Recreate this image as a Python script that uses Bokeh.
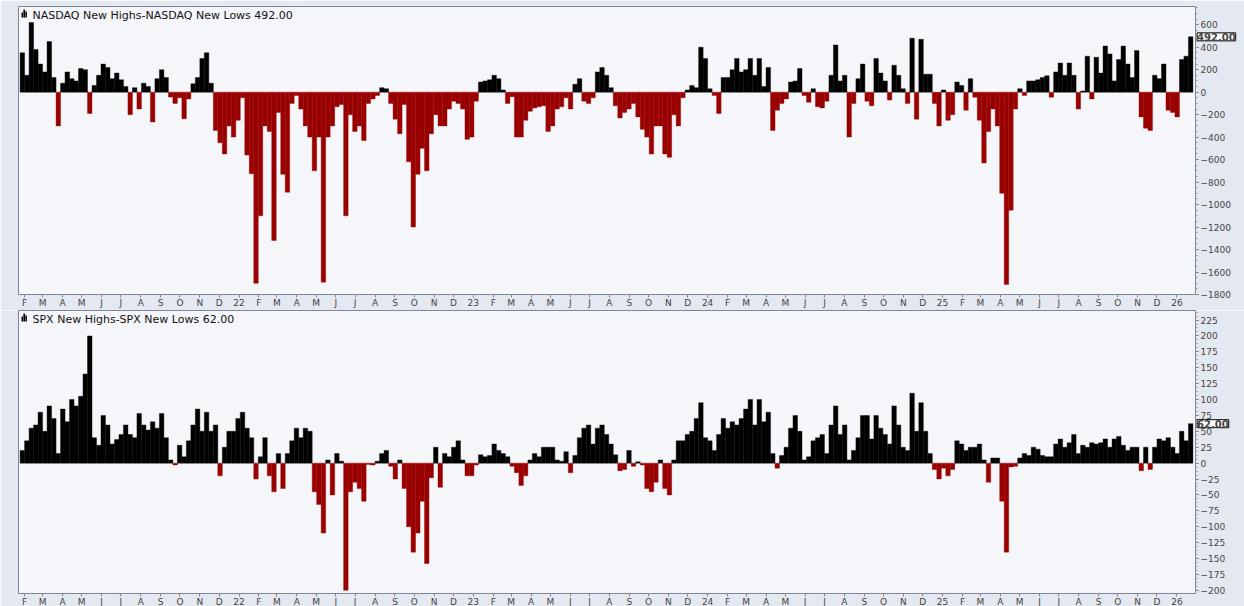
import pandas as pd
from bokeh.plotting import figure
from bokeh.layouts import column
from bokeh.models import Range1d, FixedTicker, SingleIntervalTicker, Label, BoxAnnotation, ColumnDataSource
from bokeh.embed import file_html
from bokeh.resources import INLINE

# ---------------- data (weekly readings, week starting 2021-01-25) ----------------
start_date = "2021-01-25"

nasdaq_hl = [
    350, 150, 620, 380, 250, 180, 450, 130, -300, 80,
    180, 120, 100, 210, 200, -190, 60, 150, 250, 220,
    120, 170, 110, 50, -200, 40, -150, 80, 50, -266,
    120, 200, 130, -44, -100, -50, -237, -60, 74, 130,
    300, 350, 80, -340, -450, -550, -300, -400, -250, -50,
    -560, -725, -1700, -1100, -300, -350, -1320, -180, -730, -890,
    -100, -30, -150, -300, -400, -700, -400, -1690, -400, -300,
    -130, -110, -1100, -200, -350, -300, -430, -100, -60, -30,
    40, 30, -100, -240, -370, -110, -620, -1200, -730,
    -500, -700, -370, -200, -300, -300, -150, -80, -100, -150, -420,
    -400, -80, 90, 100, 110, 150, 120, 20, -100, -40,
    -400, -400, -250, -170, -140, -130, -120, -350, -300, -150,
    -130, -50, -150, 70, 120, -80, -100, -50, 180, 220,
    150, 40, -120, -230, -180, -150, -100, -220, -330, -400,
    -550, -300, -300, -550, -580, -200, -300, -50, 20, 60,
    40, 400, 300, 30, -30, -190, 130, 130, 200, 300,
    180, 200, 300, 150, 300, 50, 220, -340, -160, -100,
    -60, 90, 100, 210, -30, -90, 30, -130,
    -140, -80, 150, 420, 100, 150, -400, -100, 120, 250, -80, -120,
    300, 170, 100, -70, 240, 150, 30, -100, 480, -240,
    470, 160, 160, -100, -300, 20, -250, -200, 90, 60,
    -160, 120, -45, -250, -630, -350, -150, -300, -900, -1710,
    -1050, -150, 30, -30, 100, 100, 110, 130, 145, -45,
    180, 260, 150, 260, 150, -150, 10, 320, -60, 310,
    170, 410, 340, 100, 290, 410, 250, 130, 370, -220,
    -320, -340, 150, 120, 250, -160, -180, -220, 290, 320, 492,
]

spx_hl = [
    20, 35, 55, 60, 80, 50, 90, 70, 15, 85,
    65, 100, 90, 105, 140, 200, 40, 28, 75, 60,
    30, 37, 45, 60, 45, 40, 78, 60, 52, 65,
    55, 78, 40, 5, -3, 28, 10, 35, 60, 85,
    50, 80, 50, 60, -20, 25, 50, 50, 70, 80,
    55, 40, -25, 10, 40, -20, -45, 15, -40, 15,
    35, 55, 40, 55, 50, -45, -65, -110, 5, -50,
    15, 3, -200, -45, -30, -40, -60, -2, -3, 3,
    15, 20, -5, -25, 5, -40, -100, -140, -110,
    -60, -158, -23, 25, -38, 15, 10, 25, 35, 5, -20,
    -20, -3, 13, 10, 12, 30, 20, 15, 10, -5,
    -15, -35, -20, 5, 15, 10, 25, 25, 25, 5,
    3, 18, -15, 12, 40, 55, 60, 30, 55, 60,
    45, 30, 13, -12, -10, 20, -5, 2, -3, -40,
    -45, -30, 5, -40, -50, 5, 35, 35, 45, 50,
    70, 95, 40, 35, 20, 45, 70, 55, 65, 60,
    70, 85, 100, 60, 100, 65, 80, 15, -8, 12,
    25, 55, 75, 50, 5, 10, 35, 40,
    45, 15, 60, 90, 45, 60, 5, 20, 40, 75, 75, 38,
    75, 55, 45, 30, 90, 60, 25, 20, 110, 50,
    95, 50, 15, -10, -25, -8, -20, -10, 35, 30,
    20, 25, 25, 30, 5, -30, 8, 8, -60, -140,
    -6, -5, 8, 15, 12, 25, 22, 12, 10, 10,
    30, 38, 25, 32, 45, 15, 28, 25, 32, 30,
    32, 38, 25, 38, 42, 28, 20, 25, 25, -12,
    25, -10, 25, 38, 35, 40, 25, 15, 50, 35, 62,
]

nasdaq_title = "NASDAQ New Highs-NASDAQ New Lows"
spx_title = "SPX New Highs-SPX New Lows"
nasdaq_last = "492.00"
spx_last = "62.00"
month_letters = ["J", "F", "M", "A", "M", "J", "J", "A", "S", "O", "N", "D"]

# ---------------- geometry / style ----------------
origin = pd.Timestamp("2021-02-01")
dates = pd.date_range(start_date, periods=len(nasdaq_hl), freq="7D")
xc = [(d - origin).days + 3.5 for d in dates]

month_starts = pd.date_range("2021-02-01", "2026-01-01", freq="MS")
tick_pos = [(d - origin).days for d in month_starts]
tick_labels = {int(t): (f"{d.year % 100:02d}" if d.month == 1 else month_letters[d.month - 1])
               for t, d in zip(tick_pos, month_starts)}

POS = "#000000"
NEG = "#990000"
PLOT_BG = "#F5F6FA"
BORDER_BG = "#E4E8F0"
FRAME = "#80869A"
FONT = "DejaVu Sans"
FW = 1177
X_END = 1824


def make_panel(values, title, last_text, yr, interval, frame_h, top_border):
    p = figure(frame_width=FW, frame_height=frame_h,
               x_range=Range1d(-9.5, X_END), y_range=Range1d(*yr),
               output_backend="svg", toolbar_location=None, y_axis_location="right",
               min_border_left=18, min_border_right=44, min_border_top=top_border,
               min_border_bottom=0,
               background_fill_color=PLOT_BG, border_fill_color=BORDER_BG,
               outline_line_color=FRAME)
    p.xgrid.visible = False
    p.ygrid.visible = False

    colors = [POS if v >= 0 else NEG for v in values]
    src = ColumnDataSource(dict(x=xc, top=values, color=colors))
    p.vbar(x="x", top="top", bottom=0, width=7, source=src,
           fill_color="color", line_color="color", line_width=0.4)

    xa = p.xaxis[0]
    xa.ticker = FixedTicker(ticks=tick_pos)
    xa.major_label_overrides = tick_labels
    xa.major_tick_in = 0
    xa.major_tick_out = 3
    xa.minor_tick_out = 0
    xa.major_label_standoff = 0
    xa.major_label_text_font = FONT
    xa.major_label_text_font_size = "9px"
    xa.axis_line_color = FRAME
    xa.major_tick_line_color = FRAME

    ya = p.yaxis[0]
    ya.ticker = SingleIntervalTicker(interval=interval, num_minor_ticks=4)
    ya.major_tick_in = 0
    ya.major_tick_out = 3
    ya.minor_tick_in = 0
    ya.minor_tick_out = 2
    ya.major_label_standoff = 2
    ya.major_label_text_font = FONT
    ya.major_label_text_font_size = "9px"
    ya.axis_line_color = FRAME
    ya.major_tick_line_color = "#555555"
    ya.minor_tick_line_color = "#999999"

    # small bar-chart icon before the title
    for l, r, t in [(3, 4.6, 6), (4.9, 6.6, 3), (6.9, 8.4, 5)]:
        p.add_layout(BoxAnnotation(left=l, right=r, top=frame_h - t, bottom=frame_h - 11,
                                   left_units="screen", right_units="screen",
                                   top_units="screen", bottom_units="screen",
                                   fill_color="black", fill_alpha=1, line_alpha=0))

    p.add_layout(Label(x=14, y=frame_h - 2, x_units="screen", y_units="screen",
                       text=f"{title} {last_text}", text_font=FONT, text_font_size="11px",
                       text_baseline="top", text_color="#111111"))

    # last-value marker just right of the frame (hosted in a side panel so it is not clipped)
    p.add_layout(Label(x=X_END + 2.5, y=values[-1], x_units="data", y_units="data",
                       text=last_text, text_font=FONT, text_font_size="10px",
                       text_font_style="bold", text_baseline="middle",
                       background_fill_color="white", border_line_color="black",
                       border_line_width=1), "right")
    return p


p1 = make_panel(nasdaq_hl, nasdaq_title, nasdaq_last, (-1800, 762), 200, 288, 6)
p2 = make_panel(spx_hl, spx_title, spx_last, (-205, 240), 25, 283, 0)

layout = column(p1, p2, spacing=0)
open("out.html", "w").write(file_html(layout, INLINE))
